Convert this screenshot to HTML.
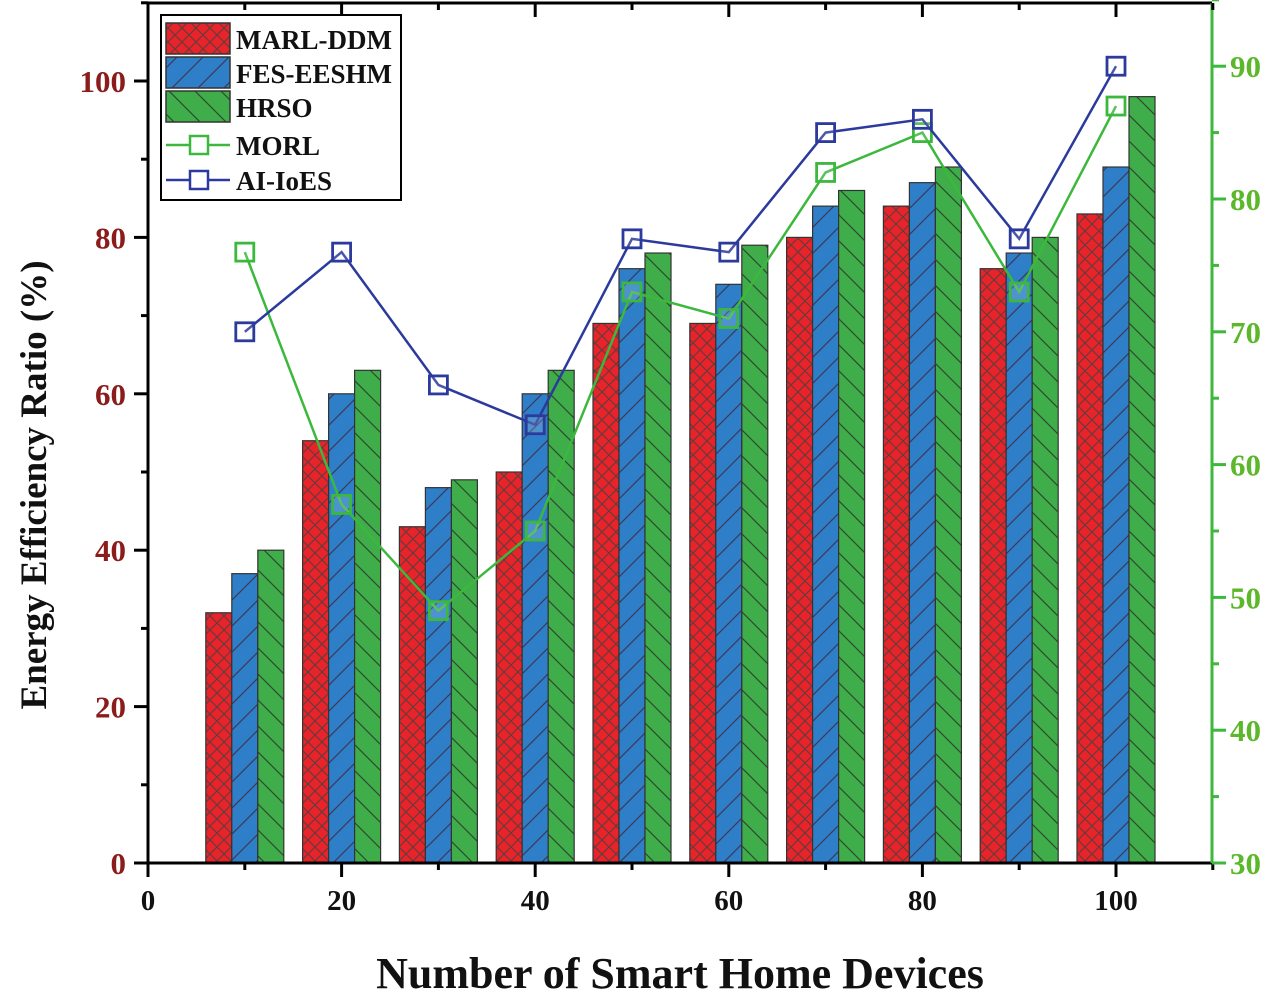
<!DOCTYPE html>
<html><head><meta charset="utf-8"><style>
html,body{margin:0;padding:0;background:#fff;}
svg{display:block;font-family:"Liberation Serif",serif;font-weight:bold;}
</style></head><body>
<svg id="chart" width="1280" height="995" viewBox="0 0 1280 995" xmlns="http://www.w3.org/2000/svg">
<defs>
<pattern id="pRed" patternUnits="userSpaceOnUse" width="14" height="14">
<rect width="14" height="14" fill="#e8232a"/>
<path d="M0,0L14,14M14,0L0,14" stroke="#6a3a3a" stroke-width="1.2"/>
</pattern>
<pattern id="pBlue" patternUnits="userSpaceOnUse" width="26" height="26">
<rect width="26" height="26" fill="#2f7fc8"/>
<path d="M0,26L26,0M-13,13L13,-13M13,39L39,13" stroke="#3a3a5a" stroke-width="1.2"/>
</pattern>
<pattern id="pGreen" patternUnits="userSpaceOnUse" width="26" height="26">
<rect width="26" height="26" fill="#3fae4a"/>
<path d="M0,0L26,26M-13,13L13,39M13,-13L39,13" stroke="#2f4a2f" stroke-width="1.2"/>
</pattern>
</defs>
<g id="bars"></g>
<g id="lines"></g>
<g id="axes"></g>
<g id="legend"></g>
</svg>
<script>
const categories=[10,20,30,40,50,60,70,80,90,100];
const marlDdm=[32,54,43,50,69,69,80,84,76,83];
const fesEeshm=[37,60,48,60,76,74,84,87,78,89];
const hrso=[40,63,49,63,78,79,86,89,80,98];
const morl=[76,57,49,55,73,71,82,85,73,87];
const aiIoes=[70,76,66,63,77,76,85,86,77,90];
const xTicks=[0,20,40,60,80,100];
const yLeftTicks=[0,20,40,60,80,100];
const yRightTicks=[30,40,50,60,70,80,90];

const X0=148,X1=1212,Y0=863,Ytop=3;
const xs=v=>X0+v*9.68;
const yl=v=>Y0-v*7.82;
const yr=v=>Y0-(v-30)*13.28;
const NS="http://www.w3.org/2000/svg";
function mk(tag,attrs,parent){const e=document.createElementNS(NS,tag);for(const k in attrs)e.setAttribute(k,attrs[k]);parent.appendChild(e);return e;}
const bars=document.getElementById('bars'),lines=document.getElementById('lines'),axes=document.getElementById('axes'),legend=document.getElementById('legend');
const bw=26;
const series=[[marlDdm,'url(#pRed)','bar-marl-ddm',-1],[fesEeshm,'url(#pBlue)','bar-fes-eeshm',0],[hrso,'url(#pGreen)','bar-hrso',1]];
series.forEach(([arr,fill,name,off])=>{
 arr.forEach((v,i)=>{
  const cx=xs(categories[i])+off*bw;
  const r=mk('rect',{x:cx-bw/2,y:yl(v),width:bw,height:Y0-yl(v),fill:fill,stroke:'#333','stroke-width':1.2},bars);
  
  
 });
});
function line(arr,color,name){
 const pts=arr.map((v,i)=>xs(categories[i])+','+yr(v)).join(' ');
 const p=mk('polyline',{points:pts,fill:'none',stroke:color,'stroke-width':2.5},lines);
 
 
 arr.forEach((v,i)=>{
  const m=mk('rect',{x:xs(categories[i])-9,y:yr(v)-9,width:18,height:18,fill:'#fff','fill-opacity':0.15,stroke:color,'stroke-width':2.8},lines);
  
  
 });
}
line(morl,'#3cb83c','morl');
line(aiIoes,'#2b3a9c','ai-ioes');
mk('line',{x1:X0,y1:Y0,x2:X1,y2:Y0,stroke:'#000','stroke-width':3},axes);
mk('line',{x1:X0,y1:Ytop,x2:X1,y2:Ytop,stroke:'#000','stroke-width':3},axes);
mk('line',{x1:X0,y1:Ytop,x2:X0,y2:Y0,stroke:'#000','stroke-width':3},axes);
mk('line',{x1:X1,y1:Ytop,x2:X1,y2:Y0,stroke:'#3cb83c','stroke-width':3},axes);
for(let v=0;v<=110;v+=10){
 const major=v%20===0;
 mk('line',{x1:xs(v),y1:Y0,x2:xs(v),y2:Y0+(major?14:7),stroke:'#000','stroke-width':3},axes);
 mk('line',{x1:xs(v),y1:Ytop,x2:xs(v),y2:Ytop+(major?14:7),stroke:'#000','stroke-width':3},axes);
}
xTicks.forEach(v=>{const t=mk('text',{x:xs(v),y:Y0+47,'text-anchor':'middle','font-size':29,fill:'#111'},axes);t.textContent=v;
 });
for(let v=0;v<=110;v+=10){mk('line',{x1:X0,y1:yl(v),x2:X0-(v%20===0?14:7),y2:yl(v),stroke:'#000','stroke-width':3},axes);}
yLeftTicks.forEach(v=>{const t=mk('text',{x:X0-22,y:yl(v)+11,'text-anchor':'end','font-size':31,fill:'#8b1c1c'},axes);t.textContent=v;
 });
for(let v=30;v<=95;v+=5){mk('line',{x1:X1,y1:yr(v),x2:X1+(v%10===0?14:7),y2:yr(v),stroke:'#3cb83c','stroke-width':3},axes);}
yRightTicks.forEach(v=>{const t=mk('text',{x:X1+18,y:yr(v)+11,'font-size':31,fill:'#5cb82a'},axes);t.textContent=v;
 });
</script>
<script>
(function(){
const NS="http://www.w3.org/2000/svg";const svg=document.getElementById('chart');
let t=document.createElementNS(NS,'text');t.setAttribute('x',680);t.setAttribute('y',988);t.setAttribute('text-anchor','middle');t.setAttribute('font-size',44);t.setAttribute('fill','#111');t.textContent='Number of Smart Home Devices';


svg.appendChild(t);
t=document.createElementNS(NS,'text');t.setAttribute('transform','translate(46,485) rotate(-90)');t.setAttribute('text-anchor','middle');t.setAttribute('font-size',37);t.setAttribute('fill','#111');t.textContent='Energy Efficiency Ratio (%)';


svg.appendChild(t);
const lg=document.getElementById('legend');
const box=document.createElementNS(NS,'rect');box.setAttribute('x',161);box.setAttribute('y',15);box.setAttribute('width',240);box.setAttribute('height',185);box.setAttribute('fill','#fff');box.setAttribute('stroke','#000');box.setAttribute('stroke-width',2);


lg.appendChild(box);
const items=[['MARL-DDM','url(#pRed)','bar'],['FES-EESHM','url(#pBlue)','bar'],['HRSO','url(#pGreen)','bar'],['MORL','#3cb83c','line'],['AI-IoES','#2b3a9c','line']];
const ys=[39,73,107,145,180];
items.forEach((it,i)=>{
 const g=document.createElementNS(NS,'g');
 
 
 const y=ys[i];
 if(it[2]==='bar'){const r=document.createElementNS(NS,'rect');r.setAttribute('x',166);r.setAttribute('y',y-16);r.setAttribute('width',64);r.setAttribute('height',31);r.setAttribute('fill',it[1]);r.setAttribute('stroke','#333');r.setAttribute('stroke-width',1.5);g.appendChild(r);}
 else{const l=document.createElementNS(NS,'line');l.setAttribute('x1',166);l.setAttribute('x2',230);l.setAttribute('y1',y);l.setAttribute('y2',y);l.setAttribute('stroke',it[1]);l.setAttribute('stroke-width',2.5);g.appendChild(l);
  const r=document.createElementNS(NS,'rect');r.setAttribute('x',190);r.setAttribute('y',y-9);r.setAttribute('width',18);r.setAttribute('height',18);r.setAttribute('fill','#fff');r.setAttribute('stroke',it[1]);r.setAttribute('stroke-width',2.5);g.appendChild(r);}
 const tx=document.createElementNS(NS,'text');tx.setAttribute('x',236);tx.setAttribute('y',y+10);tx.setAttribute('font-size',27);tx.setAttribute('fill','#111');tx.textContent=it[0];g.appendChild(tx);
 lg.appendChild(g);
});
})();
</script>
</body></html>
